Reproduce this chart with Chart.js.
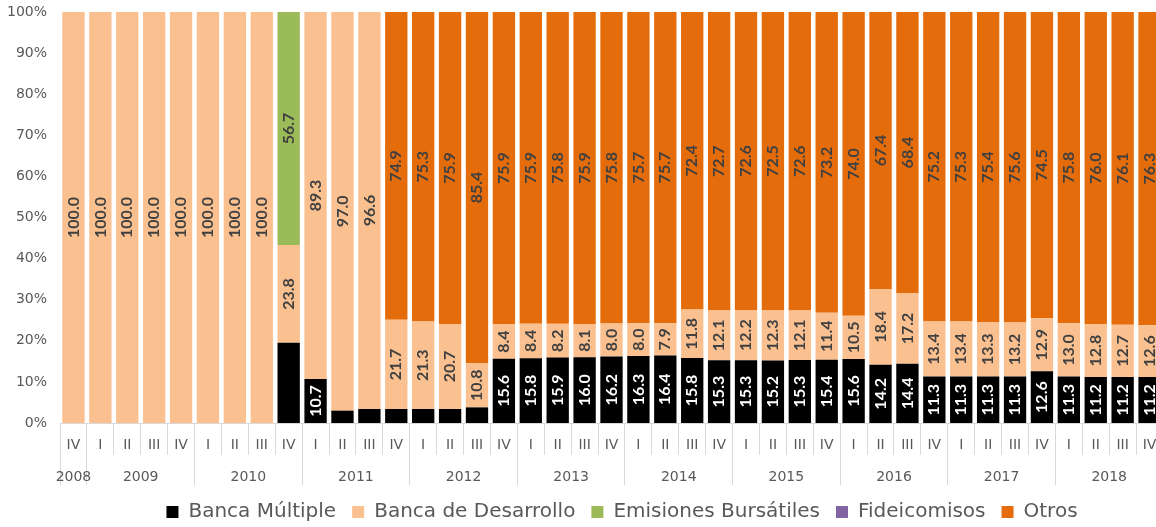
<!DOCTYPE html>
<html>
<head>
<meta charset="utf-8">
<script src="https://cdn.jsdelivr.net/npm/chart.js@4.4.0/dist/chart.umd.min.js"></script>
<style>
  html, body { margin: 0; padding: 0; background: #fff; overflow: hidden; width: 1156px; height: 527px; }
  #wrap { position: relative; width: 1156px; height: 527px; overflow: hidden; }
  #grafica { position: absolute; left: 0; top: 0; }
</style>
</head>
<body>
<div id="wrap"><canvas id="grafica" width="1244" height="532" style="width:1244px;height:532px"></canvas></div>
<script>
// trimestres, 2008 IV a 2018 IV
var trimestres = ["IV",
  "I","II","III","IV", "I","II","III","IV", "I","II","III","IV", "I","II","III","IV",
  "I","II","III","IV", "I","II","III","IV", "I","II","III","IV", "I","II","III","IV",
  "I","II","III","IV", "I","II","III","IV"];

var anios = ["2008","2009","2010","2011","2012","2013","2014","2015","2016","2017","2018"];
// numero de trimestres de cada anio en la grafica
var trimestresPorAnio = [1,4,4,4,4,4,4,4,4,4,4];

var bancaMultiple = [0,0,0,0,0,0,0,0,19.5,10.7,3.0,3.4,3.4,3.4,3.4,3.8,
  15.6,15.8,15.9,16.0,16.2,16.3,16.4,15.8,15.3,15.3,15.2,15.3,15.4,15.6,14.2,14.4,
  11.3,11.3,11.3,11.3,12.6,11.3,11.2,11.2,11.2];
var bancaDesarrollo = [100,100,100,100,100,100,100,100,23.8,89.3,97.0,96.6,21.7,21.3,20.7,10.8,
  8.4,8.4,8.2,8.1,8.0,8.0,7.9,11.8,12.1,12.2,12.3,12.1,11.4,10.5,18.4,17.2,
  13.4,13.4,13.3,13.2,12.9,13.0,12.8,12.7,12.6];
var emisiones = [0,0,0,0,0,0,0,0,56.7,0,0,0,0,0,0,0,
  0,0,0,0,0,0,0,0,0,0,0,0,0,0,0,0,
  0,0,0,0,0,0,0,0,0];
var fideicomisos = [0,0,0,0,0,0,0,0,0,0,0,0,0,0,0,0,
  0,0,0,0,0,0,0,0,0,0,0,0,0,0,0,0,
  0,0,0,0,0,0,0,0,0];
var otros = [0,0,0,0,0,0,0,0,0,0,0,0,74.9,75.3,75.9,85.4,
  75.9,75.9,75.8,75.9,75.8,75.7,75.7,72.4,72.7,72.6,72.5,72.6,73.2,74.0,67.4,68.4,
  75.2,75.3,75.4,75.6,74.5,75.8,76.0,76.1,76.3];

var series = [bancaMultiple, bancaDesarrollo, emisiones, fideicomisos, otros];
var nombres = ["Banca Múltiple", "Banca de Desarrollo", "Emisiones Bursátiles", "Fideicomisos", "Otros"];
var colores = ["#000000", "#FAC090", "#9BBB59", "#8064A2", "#E46C0A"];

// etiqueta que no aparece en el original (2010 IV, banca multiple)
var sinEtiqueta = ["0-8"];

var gris = "#595959";
var fuente = "'DejaVu Sans', sans-serif";

// 100% apilado
var totales = trimestres.map(function(t, j) {
  return series.reduce(function(s, arr) { return s + arr[j]; }, 0);
});
function porcentaje(arr) {
  return arr.map(function(v, j) { return totales[j] ? v / totales[j] * 100 : 0; });
}

// ticks del eje de anios: limites y centros
var limites = [0];
var ticksAnio = [{ value: 0 }];
var etiquetaAnio = {};
var acum = 0;
trimestresPorAnio.forEach(function(n, k) {
  var centro = acum + n / 2;
  etiquetaAnio[centro] = anios[k];
  ticksAnio.push({ value: centro });
  acum += n;
  limites.push(acum);
  ticksAnio.push({ value: acum });
});

var etiquetas = {
  id: "etiquetas",
  afterDatasetsDraw: function(chart) {
    var ctx = chart.ctx;
    chart.data.datasets.forEach(function(ds, i) {
      var meta = chart.getDatasetMeta(i);
      meta.data.forEach(function(bar, j) {
        var v = series[i][j];
        if (v < 5 || sinEtiqueta.indexOf(i + "-" + j) >= 0) return;
        ctx.save();
        ctx.translate(bar.x, (bar.y + bar.base) / 2);
        ctx.rotate(-Math.PI / 2);
        ctx.font = "bold 16px Lato";
        ctx.fillStyle = i === 0 ? "#ffffff" : "#404040";
        ctx.textAlign = "center";
        ctx.textBaseline = "middle";
        ctx.fillText(v.toFixed(1), 0, 0);
        ctx.restore();
      });
    });
  }
};

var chart = new Chart(document.getElementById("grafica"), {
  type: "bar",
  data: {
    labels: trimestres,
    datasets: series.map(function(arr, i) {
      return {
        label: nombres[i],
        data: porcentaje(arr),
        backgroundColor: colores[i],
        borderWidth: 0,
        categoryPercentage: 1,
        barPercentage: 0.83
      };
    })
  },
  options: {
    responsive: false,
    animation: false,
    layout: { padding: { top: 12, right: 0, left: 0, bottom: 0 } },
    plugins: {
      tooltip: { enabled: false },
      legend: {
        position: "bottom",
        labels: {
          boxWidth: 12,
          boxHeight: 12,
          padding: 16,
          color: gris,
          font: { family: fuente, size: 20 }
        }
      }
    },
    scales: {
      x: {
        stacked: true,
        grid: { offset: true, drawOnChartArea: false, tickLength: 32, color: "#d9d9d9" },
        border: { color: "#d9d9d9" },
        ticks: { color: gris, font: { family: fuente, size: 14 }, padding: -18, maxRotation: 0, autoSkip: false },
        afterFit: function(s) { s.height = 32; }
      },
      anio: {
        type: "linear",
        position: "bottom",
        min: 0,
        max: trimestres.length,
        offset: false,
        grid: {
          offset: false,
          drawOnChartArea: false,
          tickLength: 30,
          color: function(c) {
            return c.tick && limites.indexOf(c.tick.value) >= 0 ? "#d9d9d9" : "rgba(0,0,0,0)";
          }
        },
        border: { display: false },
        ticks: {
          autoSkip: false,
          maxRotation: 0,
          padding: -16,
          color: gris,
          font: { family: fuente, size: 14 },
          callback: function(v) { return etiquetaAnio[v] || ""; }
        },
        afterBuildTicks: function(s) { s.ticks = ticksAnio.slice(); },
        afterFit: function(s) { s.height = 31; }
      },
      y: {
        stacked: true,
        min: 0,
        max: 100,
        border: { display: false },
        grid: { display: false, drawTicks: true, tickLength: 13 },
        ticks: {
          stepSize: 10,
          padding: 0,
          color: gris,
          font: { family: fuente, size: 14 },
          callback: function(v) { return v + "%"; }
        },
        afterFit: function(s) { s.width = 60; }
      },
      // margen derecho: el grafico original queda recortado en el borde
      derecha: {
        type: "linear",
        position: "right",
        min: 0,
        max: 100,
        border: { display: false },
        grid: { display: false },
        ticks: { display: false },
        afterFit: function(s) { s.width = 81; }
      }
    }
  },
  plugins: [etiquetas]
});
</script>
</body>
</html>
